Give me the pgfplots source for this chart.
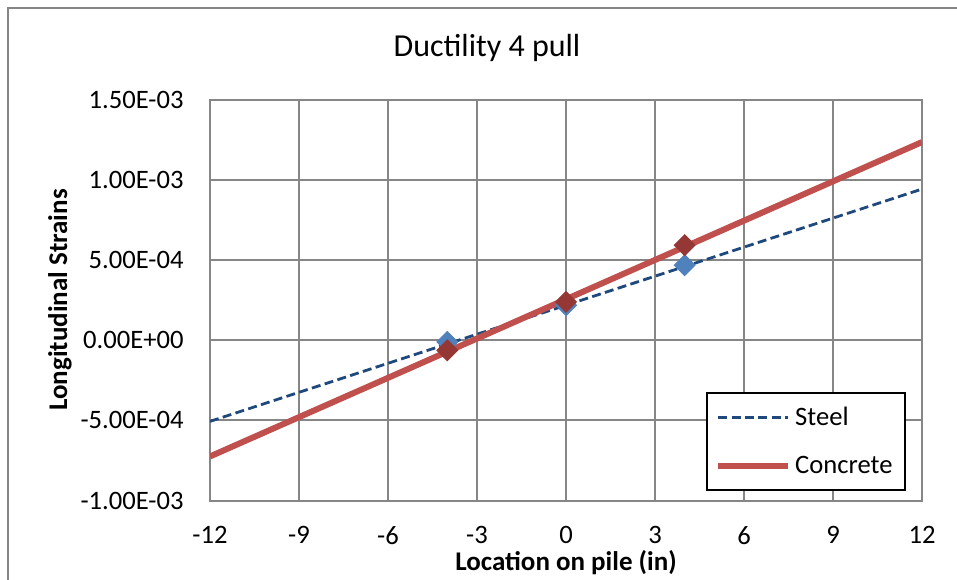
\documentclass[border=0pt]{standalone}
\usepackage{pgfplots}
\pgfplotsset{compat=1.18}
\usepackage{fontspec}
\setmainfont{Carlito}

\definecolor{gridgray}{HTML}{868686}
\definecolor{steelline}{HTML}{1F497D}
\definecolor{steelmark}{HTML}{4F81BD}
\definecolor{concline}{HTML}{C0504D}
\definecolor{concmark}{HTML}{953735}

\begin{document}
\begin{tikzpicture}
    % page = 957x579 px at 0.5pt per px
    \useasboundingbox (0pt,0pt) rectangle (478.5pt,289.5pt);
    \fill[white] (0pt,0pt) rectangle (478.5pt,289.5pt);
    % outer chart frame (only left and top edges are in view)
    \draw[gridgray, line width=1pt] (4pt,-10pt) -- (4pt,285.5pt) -- (500pt,285.5pt);

    \begin{axis}[
        at={(105pt,39.25pt)}, anchor=south west,
        scale only axis,
        width=356pt, height=200.25pt,
        xmin=-12, xmax=12,
        ymin=-1e-3, ymax=1.5e-3,
        xtick={-12,-9,-6,-3,0,3,6,9,12},
        xticklabels={-12,-9,-6,-3,0,3,6,9,12},
        ytick={-1e-3,-5e-4,0,5e-4,1e-3,1.5e-3},
        yticklabels={-1.00E-03,-5.00E-04,0.00E+00,5.00E-04,1.00E-03,1.50E-03},
        scaled y ticks=false,
        major tick length=0pt,
        grid=major,
        major grid style={gridgray, line width=1pt},
        axis line style={gridgray, line width=1pt},
        tick label style={font=\fontsize{13.3}{15}\selectfont, text=black},
        yticklabel style={anchor=east, inner sep=0pt, xshift=-13pt},
        xticklabel style={anchor=north, inner sep=0pt, yshift=-12.7pt},
        legend cell align=left,
        legend style={
            at={(0.9775,0.0237)}, anchor=south east,
            draw=black, line width=1pt,
            font=\fontsize{13.3}{15}\selectfont,
            inner xsep=4.25pt, inner ysep=4.75pt,
            row sep=10pt,
        },
        legend image code/.code={\draw[#1] (0pt,0pt) -- (35pt,0pt);},
    ]
    % trendlines
    \addplot[steelline, line width=1.4pt, dash pattern=on 4.5pt off 2.2pt] coordinates {
        (-12, -5.06e-4)
        (12, 9.44e-4)
    };
    \addlegendentry{Steel}
    \addplot[concline, line width=3pt] coordinates {
        (-12, -7.25e-4)
        (12, 1.2375e-3)
    };
    \addlegendentry{Concrete}

    % measured points
    \addplot[forget plot, only marks, mark=square*, mark size=3.7pt,
        mark options={steelmark, rotate=45}] coordinates {
        (-4, -1.0e-5)
        (0, 2.19e-4)
        (4, 4.69e-4)
    };
    \addplot[forget plot, only marks, mark=square*, mark size=3.7pt,
        mark options={concmark, rotate=45}] coordinates {
        (-4, -6.25e-5)
        (0, 2.40e-4)
        (4, 5.94e-4)
    };
    \end{axis}

    \node[font=\fontsize{16}{19}\selectfont] at (243.5pt,265.5pt) {Ductility 4 pull};
    \node[font=\fontsize{13.5}{16}\selectfont\bfseries, rotate=90] at (30pt,139.5pt) {Longitudinal Strains};
    \node[font=\fontsize{13.5}{16}\selectfont\bfseries] at (283pt,8pt) {Location on pile (in)};
\end{tikzpicture}
\end{document}
